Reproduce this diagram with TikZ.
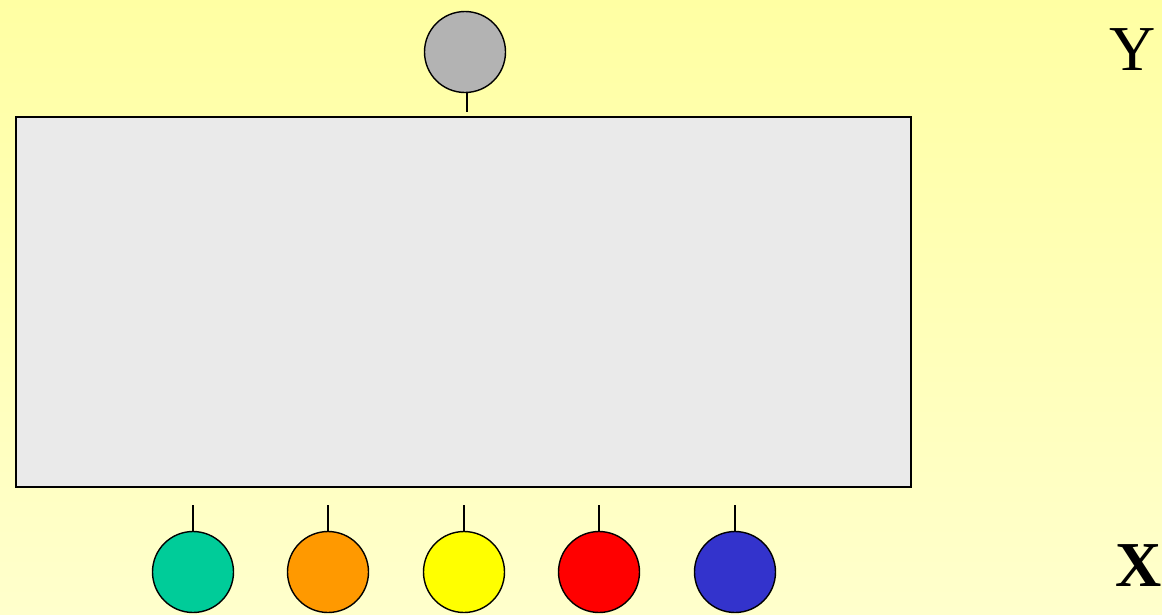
\documentclass[tikz,border=0pt]{standalone}
\usepackage{fontspec}
\setmainfont{Liberation Serif}
\usetikzlibrary{positioning}
\definecolor{bgTop}{HTML}{FFFFA3}
\definecolor{bgBot}{HTML}{FFFFCC}
\definecolor{boxFill}{HTML}{EAEAEA}
\definecolor{unitGrey}{HTML}{B3B3B3}
\definecolor{unitTeal}{HTML}{00CC99}
\definecolor{unitOrange}{HTML}{FF9900}
\definecolor{unitYellow}{HTML}{FFFF00}
\definecolor{unitRed}{HTML}{FF0000}
\definecolor{unitBlue}{HTML}{3333CC}

\tikzset{
  unit/.style={circle, draw=black, line width=1.4pt, minimum size=81pt, inner sep=0pt},
  stub/.style={draw=black, line width=1.4pt},
  axislabel/.style={font=\fontsize{64}{64}\selectfont, inner sep=0pt}
}

\begin{document}
\begin{tikzpicture}[x=1pt, y=-1pt]
  % background
  \shade[top color=bgTop, bottom color=bgBot] (0,0) rectangle (1162,614);
  \useasboundingbox (0,0) rectangle (1162,614);

  % hidden layer box
  \node[draw=black, line width=1.4pt, fill=boxFill, inner sep=0pt,
        minimum width=895pt, minimum height=370pt] (net) at (463.5,302) {};

  % output unit
  \node[unit, fill=unitGrey] (yunit) at (465,52) {};
  \coordinate (ytop) at (467,112);
  \draw[stub] (yunit.south -| ytop) -- (ytop);

  % input units
  \foreach \x/\col/\name in {193/unitTeal/x1, 328/unitOrange/x2, 464/unitYellow/x3, 599/unitRed/x4, 735/unitBlue/x5}{
    \node[unit, fill=\col] (\name) at (\x,572) {};
    \coordinate (\name top) at (\x,505);
    \draw[stub] (\name.north) -- (\name top);
  }

  % labels
  \node[axislabel] (ylab) at (1133,50) {Y};
  \node[axislabel, font=\fontsize{64}{64}\selectfont\bfseries] (xlab) at (1139,566) {X};
\end{tikzpicture}
\end{document}
